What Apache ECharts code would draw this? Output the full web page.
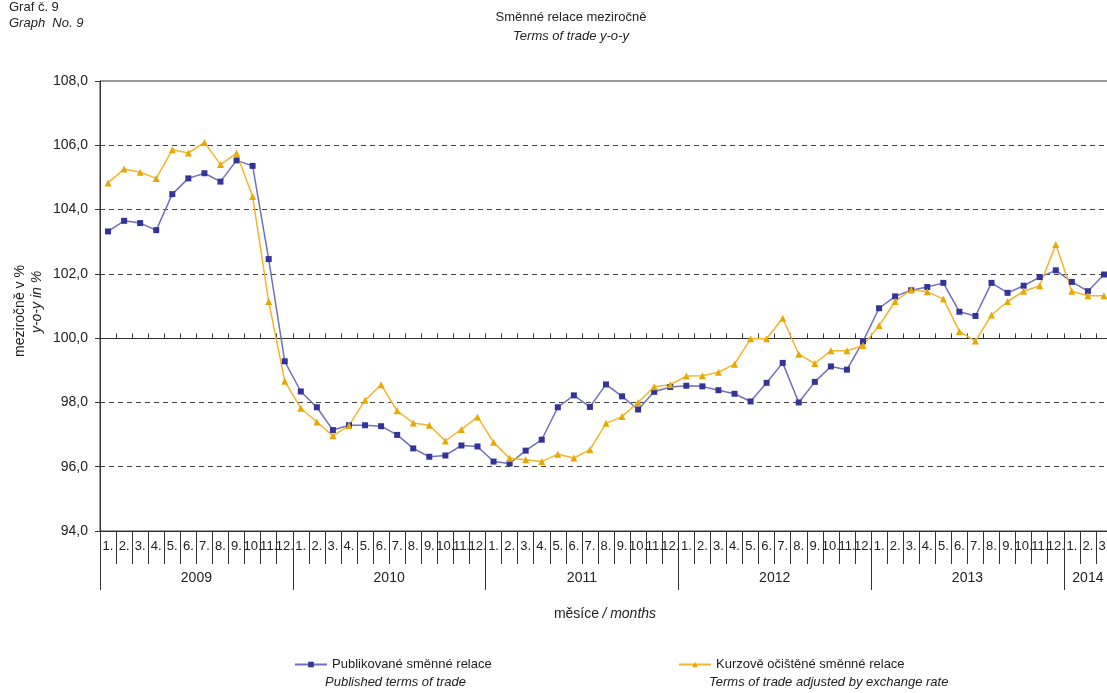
<!DOCTYPE html>
<html>
<head>
<meta charset="utf-8">
<script src="https://cdn.jsdelivr.net/npm/echarts@6/dist/echarts.min.js"></script>
<style>
  html, body { margin: 0; padding: 0; background: #fff; }
  #chart { width: 1107px; height: 693px; }
</style>
</head>
<body>
<div id="chart"></div>
<script>
// data (1/2009 .. 3/2014)
const years = ['2009', '2010', '2011', '2012', '2013', '2014'];
const monthsInYear = [12, 12, 12, 12, 12, 3];

const published = [
  103.32, 103.65, 103.58, 103.36, 104.48, 104.97, 105.13, 104.87, 105.53, 105.36, 102.46, 99.28,
  98.34, 97.85, 97.14, 97.29, 97.29, 97.26, 96.99, 96.57, 96.31, 96.35, 96.66, 96.63,
  96.16, 96.10, 96.50, 96.84, 97.85, 98.22, 97.86, 98.56, 98.19, 97.78, 98.33, 98.48,
  98.52, 98.50, 98.38, 98.27, 98.03, 98.61, 99.23, 98.00, 98.64, 99.12, 99.02, 99.90,
  100.93, 101.30, 101.49, 101.59, 101.72, 100.82, 100.69, 101.72, 101.41, 101.63, 101.90, 102.11,
  101.75, 101.46, 101.98
];
const adjusted = [
  104.83, 105.26, 105.16, 104.97, 105.86, 105.76, 106.09, 105.40, 105.75, 104.41, 101.14, 98.66,
  97.82, 97.39, 96.96, 97.28, 98.07, 98.55, 97.74, 97.36, 97.29, 96.80, 97.16, 97.55,
  96.76, 96.26, 96.22, 96.16, 96.39, 96.27, 96.53, 97.35, 97.56, 98.00, 98.49, 98.55,
  98.82, 98.83, 98.94, 99.19, 99.98, 99.98, 100.62, 99.50, 99.21, 99.61, 99.61, 99.77,
  100.39, 101.14, 101.51, 101.44, 101.22, 100.21, 99.91, 100.72, 101.14, 101.46, 101.63, 102.91,
  101.46, 101.32, 101.32
];

const seriesNames = ['Publikované směnné relace', 'Kurzově očištěné směnné relace'];
const seriesNamesEn = ['Published terms of trade', 'Terms of trade adjusted by exchange rate'];

// month labels 1. 2. ... 12.
const months = [];
const yearStarts = [];
const yearCenters = [];
let pos = 0;
monthsInYear.forEach(function (n) {
  yearStarts.push(pos);
  yearCenters.push(pos + n / 2);
  for (let m = 1; m <= n; m++) months.push(m + '.');
  pos += n;
});

const font = 'Arial, "Liberation Sans", sans-serif';
const txt = '#222';

const myChart = echarts.init(document.getElementById('chart'));
const option = {
  animation: false,
  textStyle: { fontFamily: font },
  grid: {
    left: 100, top: 81, width: 1012, bottom: 162,
    outerBoundsMode: 'none', containLabel: false,
    show: true, borderColor: '#333', borderWidth: 1
  },
  legend: [
    {
      data: [seriesNames[0]], left: 289, top: 653,
      itemWidth: 32, itemHeight: 7,
      textStyle: { fontFamily: font, fontSize: 13, color: txt }
    },
    {
      data: [seriesNames[1]], left: 673, top: 653,
      itemWidth: 32, itemHeight: 7,
      textStyle: { fontFamily: font, fontSize: 13, color: txt }
    }
  ],
  xAxis: [
    {
      type: 'category', position: 'bottom', data: months, boundaryGap: true,
      axisLine: { show: true, lineStyle: { color: '#333', width: 1 } },
      axisTick: { show: true, interval: 0, length: 33, lineStyle: { color: '#333', width: 1 } },
      axisLabel: { interval: 0, margin: 9, fontSize: 13, color: txt, fontFamily: font }
    },
    {
      // solid line at 100 with small ticks
      type: 'category', position: 'top', offset: -257.5, data: months, boundaryGap: true,
      axisLine: { show: true, lineStyle: { color: '#333', width: 1 } },
      axisTick: { show: true, interval: 0, length: 5, lineStyle: { color: '#333', width: 1 } },
      axisLabel: { show: false }
    },
    {
      // year row
      type: 'value', position: 'bottom', min: 0, max: months.length,
      axisLine: { show: false },
      splitLine: { show: false },
      axisTick: { show: true, customValues: yearStarts, length: 59, lineStyle: { color: '#333' } },
      axisLabel: {
        customValues: yearCenters, margin: 40, fontSize: 14, color: txt, fontFamily: font,
        formatter: function (v) {
          const i = yearCenters.indexOf(v);
          return i >= 0 ? years[i] : '';
        }
      }
    }
  ],
  yAxis: {
    type: 'value', min: 94, max: 108, interval: 2,
    axisLine: { show: true, lineStyle: { color: '#333', width: 1 } },
    axisTick: { show: true, length: 5, lineStyle: { color: '#333' } },
    axisLabel: {
      margin: 12, fontSize: 14, color: txt, fontFamily: font,
      formatter: function (v) { return v.toFixed(1).replace('.', ','); }
    },
    splitLine: {
      showMinLine: false, showMaxLine: false,
      lineStyle: { color: '#444', width: 1, type: [5, 4] }
    }
  },
  series: [
    {
      name: seriesNames[0], type: 'line', data: published,
      symbol: 'rect', symbolSize: 6,
      lineStyle: { color: '#6f6fba', width: 1.5 },
      itemStyle: { color: '#33339a' }
    },
    {
      name: seriesNames[1], type: 'line', data: adjusted,
      symbol: 'triangle', symbolSize: 7,
      lineStyle: { color: '#f0b62e', width: 1.5 },
      itemStyle: { color: '#e9a800' }
    }
  ],
  graphic: [
    { type: 'text', left: 9, top: 1, style: { text: 'Graf č. 9', font: '13px ' + font, fill: txt } },
    { type: 'text', left: 9, top: 17, style: { text: 'Graph  No. 9', font: 'italic 13px ' + font, fill: txt } },
    { type: 'text', x: 571, y: 11, style: { text: 'Směnné relace meziročně', font: '13px ' + font, fill: txt, align: 'center' } },
    { type: 'text', x: 571, y: 30, style: { text: 'Terms of trade y-o-y', font: 'italic 13px ' + font, fill: txt, align: 'center' } },
    {
      type: 'text', x: 20, y: 311, rotation: Math.PI / 2,
      style: { text: 'meziročně v %', font: '14px ' + font, fill: txt, align: 'center', verticalAlign: 'middle' }
    },
    {
      type: 'text', x: 37, y: 302, rotation: Math.PI / 2,
      style: { text: 'y-o-y in %', font: 'italic 14px ' + font, fill: txt, align: 'center', verticalAlign: 'middle' }
    },
    {
      type: 'text', x: 605, y: 614,
      style: {
        text: '{a|měsíce} {b|/ months}', align: 'center', verticalAlign: 'middle',
        rich: {
          a: { font: '14px ' + font, fill: txt },
          b: { font: 'italic 14px ' + font, fill: txt }
        }
      }
    },
    { type: 'text', left: 325, top: 676, style: { text: seriesNamesEn[0], font: 'italic 13px ' + font, fill: txt } },
    { type: 'text', left: 709, top: 676, style: { text: seriesNamesEn[1], font: 'italic 13px ' + font, fill: txt } }
  ]
};
myChart.setOption(option, true);
</script>
</body>
</html>
